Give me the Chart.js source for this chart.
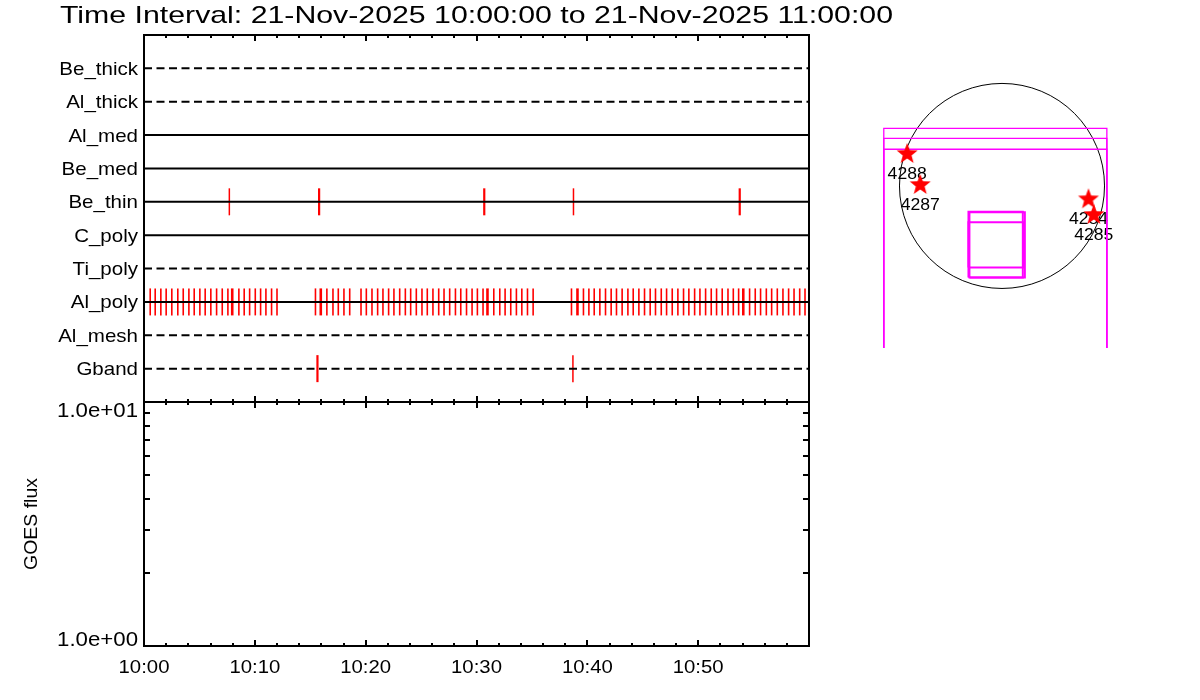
<!DOCTYPE html>
<html>
<head>
<meta charset="utf-8">
<script src="https://cdn.jsdelivr.net/npm/chart.js@4.4.1/dist/chart.umd.min.js"></script>
<style>
  html, body { margin: 0; background: #fff; }
  #wrap { position: relative; width: 1200px; height: 700px; }
  canvas { position: absolute; left: 0; top: 0; }
</style>
</head>
<body>
<div id="wrap">
  <canvas id="filters" width="1200" height="700"></canvas>
  <canvas id="goes" width="1200" height="700"></canvas>
  <canvas id="sun" width="1200" height="700"></canvas>
</div>
<script>
// ---- data ----
const title = "Time Interval: 21-Nov-2025 10:00:00 to 21-Nov-2025 11:00:00";

const filters = ["Be_thick", "Al_thick", "Al_med", "Be_med", "Be_thin",
                 "C_poly", "Ti_poly", "Al_poly", "Al_mesh", "Gband"];
const filterDashed = [true, true, false, false, false, false, true, false, true, true];

// exposure times, minutes after 10:00
const beThinSingle = [7.7, 38.75];
const beThinDouble = [15.8, 30.7, 53.75];
const gbandSingle = [38.7];
const gbandDouble = [15.65];
const alPolySingle = [
  0.0, 0.56, 1.01, 1.52, 2.0, 2.51, 3.05, 3.54, 4.05, 4.53, 5.04, 5.52, 6.03, 6.55,
  7.06, 7.57, 8.56, 9.04, 9.53, 10.04, 10.52, 11.0, 11.51, 12.0,
  15.47, 16.5, 17.05, 17.53, 18.04, 18.56,
  19.58, 20.06, 20.57, 21.08, 21.56, 22.07, 22.55, 23.07, 23.58, 24.06, 24.57, 25.08,
  25.56, 26.07, 26.59, 27.07, 27.58, 28.1, 28.58, 29.1, 29.6, 30.08, 30.59, 31.56,
  32.1, 32.58, 33.09, 33.6, 34.09, 34.6, 35.11,
  38.57, 39.65, 40.14, 40.62, 41.13, 41.64, 42.15, 42.63, 43.14, 43.66, 44.14, 44.65,
  45.16, 45.67, 46.15, 46.67, 47.15, 47.66, 48.17, 48.68, 49.16, 49.68, 50.16, 50.67,
  51.18, 51.66, 52.17, 52.69, 53.17, 53.65, 54.64, 55.15, 55.63, 56.15, 56.63, 57.14,
  57.65, 58.16, 58.65, 59.16, 59.64
];
const alPolyDouble = [7.96, 15.95, 30.99, 39.11, 54.07];

const timeTickMinutes = [0, 10, 20, 30, 40, 50];
const timeTickLabels = ["10:00", "10:10", "10:20", "10:30", "10:40", "10:50"];

const goesFlux = [];
const goesTicks = [10, 1];
const goesTickLabels = ["1.0e+01", "1.0e+00"];

// active regions, arcsec from disk centre
const arNumbers = ["4288", "4287", "4284", "4285"];
const arX = [-888, -766, 810, 860];
const arY = [300, 9, -125, -272];
const sunRadius = 960;

// XRT fields of view, arcsec
const fovXMin = [-1107, -1107, -1107, -314, -305, -314];
const fovXMax = [982, 982, 982, 195, 214, 201];
const fovYMin = [-2000, -2000, -2000, -859, -859, -765];
const fovYMax = [540, 447, 344, -241, -247, -340];

// ---- helpers ----
const FONT = '"Liberation Sans", Arial, sans-serif';

function txt(ctx, s, x, y, size, align, opts = {}) {
  ctx.save();
  ctx.font = size + "px " + FONT;
  ctx.fillStyle = "#000";
  ctx.textBaseline = "alphabetic";
  ctx.translate(x, y);
  if (opts.rot) ctx.rotate(opts.rot);
  let k = opts.stretch || 1.12;
  if (opts.width) k = opts.width / ctx.measureText(s).width;
  ctx.scale(k, 1);
  ctx.textAlign = align;
  ctx.fillText(s, 0, 0);
  ctx.restore();
}

function timeTicks(ctx, xs, y, dir) {
  for (let m = xs.min; m <= xs.max; m += 2) {
    const len = m % 10 === 0 ? 6 : 3;
    const x = Math.round(xs.getPixelForValue(m));
    ctx.moveTo(x, y);
    ctx.lineTo(x, y + dir * len);
  }
}

const common = {
  responsive: false,
  animation: false,
  events: [],
  plugins: { legend: { display: false }, tooltip: { enabled: false } },
};

// ---- filter timeline ----
const filterLines = filters.map((f, i) => ({
  label: f,
  showLine: true,
  pointRadius: 0,
  borderColor: "#000",
  borderWidth: 2,
  borderDash: filterDashed[i] ? [8, 4.5] : [],
  data: [{ x: 0, y: i + 1 }, { x: 60, y: i + 1 }],
  clip: false,
}));

function exposures(times, name, width) {
  const row = filters.indexOf(name) + 1;
  return {
    label: name + " exp",
    data: times.map(t => ({ x: t, y: row })),
    showLine: false,
    pointStyle: "line",
    pointRotation: 90,
    pointRadius: 13.5,
    pointBorderColor: "#ff0000",
    pointBorderWidth: width,
    clip: false,
  };
}

new Chart(document.getElementById("filters"), {
  type: "scatter",
  data: {
    datasets: [
      ...filterLines,
      exposures(beThinSingle, "Be_thin", 1.5),
      exposures(beThinDouble, "Be_thin", 2.2),
      exposures(gbandSingle, "Gband", 1.5),
      exposures(gbandDouble, "Gband", 2.2),
      exposures(alPolySingle, "Al_poly", 1.6),
      exposures(alPolyDouble, "Al_poly", 2.6),
    ],
  },
  options: {
    ...common,
    layout: { padding: { left: 144, right: 391, top: 35, bottom: 298 } },
    scales: {
      x: { type: "linear", min: 0, max: 60, display: false },
      y: { type: "linear", min: 0, max: 11, reverse: true, display: false },
    },
  },
  plugins: [{
    id: "filterAxes",
    afterDraw(chart) {
      const { ctx, chartArea: a } = chart;
      const xs = chart.scales.x, ys = chart.scales.y;
      ctx.save();
      ctx.strokeStyle = "#000";
      ctx.lineWidth = 2;
      ctx.beginPath();
      ctx.moveTo(a.left, a.bottom); ctx.lineTo(a.left, a.top);
      ctx.lineTo(a.right, a.top); ctx.lineTo(a.right, a.bottom);
      timeTicks(ctx, xs, a.top, 1);
      timeTicks(ctx, xs, a.bottom, -1);
      ctx.stroke();
      ctx.restore();
      filters.forEach((f, i) => {
        txt(ctx, f, 138, ys.getPixelForValue(i + 1) + 6.5, 19, "right", { stretch: 1.08 });
      });
      txt(ctx, title, (a.left + a.right) / 2, 23, 24, "center", { width: 833 });
    },
  }],
});

// ---- GOES panel ----
new Chart(document.getElementById("goes"), {
  type: "scatter",
  data: {
    datasets: [{ label: "GOES", data: goesFlux, showLine: true, borderColor: "#000", pointRadius: 0 }],
  },
  options: {
    ...common,
    layout: { padding: { left: 144, right: 391, top: 402, bottom: 54 } },
    scales: {
      x: { type: "linear", min: 0, max: 60, display: false },
      y: { type: "logarithmic", min: 1, max: 10, display: false },
    },
  },
  plugins: [{
    id: "goesAxes",
    afterDraw(chart) {
      const { ctx, chartArea: a } = chart;
      const xs = chart.scales.x, ys = chart.scales.y;
      ctx.save();
      ctx.strokeStyle = "#000";
      ctx.lineWidth = 2;
      ctx.beginPath();
      ctx.rect(a.left, a.top, a.right - a.left, a.bottom - a.top);
      timeTicks(ctx, xs, a.top, 1);
      timeTicks(ctx, xs, a.bottom, -1);
      for (let v = 2; v < 10; v++) {
        const y = Math.round(ys.getPixelForValue(v));
        ctx.moveTo(a.left, y); ctx.lineTo(a.left + 6, y);
        ctx.moveTo(a.right, y); ctx.lineTo(a.right - 6, y);
      }
      ctx.stroke();
      ctx.restore();
      timeTickMinutes.forEach((m, i) => {
        txt(ctx, timeTickLabels[i], xs.getPixelForValue(m), 673, 18, "center", { stretch: 1.13 });
      });
      goesTicks.forEach((v, i) => {
        const y = ys.getPixelForValue(v);
        const base = v === ys.max ? y + 15 : y;
        txt(ctx, goesTickLabels[i], 138, base, 19.5, "right", { stretch: 1.14 });
      });
      txt(ctx, "GOES flux", 36.5, (a.top + a.bottom) / 2, 18, "center", { rot: -Math.PI / 2, stretch: 1.08 });
    },
  }],
});

// ---- solar disk with FOVs ----
function makeStar(r) {
  const c = document.createElement("canvas");
  c.width = c.height = 2 * r + 2;
  const g = c.getContext("2d");
  g.fillStyle = "#ff0000";
  g.beginPath();
  for (let i = 0; i < 10; i++) {
    const ang = -Math.PI / 2 + i * Math.PI / 5;
    const rr = i % 2 ? r * 0.42 : r;
    g.lineTo(c.width / 2 + rr * Math.cos(ang), c.height / 2 + rr * Math.sin(ang));
  }
  g.closePath();
  g.fill();
  return c;
}

const fovSets = fovXMin.map((x0, i) => ({
  label: "fov" + i,
  showLine: true,
  pointRadius: 0,
  borderColor: "#ff00ff",
  borderWidth: i < 3 ? 1.3 : 2,
  tension: 0,
  clip: 0,
  data: [
    { x: x0, y: fovYMin[i] }, { x: x0, y: fovYMax[i] },
    { x: fovXMax[i], y: fovYMax[i] }, { x: fovXMax[i], y: fovYMin[i] },
    { x: x0, y: fovYMin[i] },
  ],
}));

new Chart(document.getElementById("sun"), {
  type: "scatter",
  data: {
    datasets: [
      {
        label: "AR",
        data: arX.map((x, i) => ({ x, y: arY[i] })),
        pointStyle: makeStar(11),
        pointRadius: 10,
        clip: false,
      },
      ...fovSets,
    ],
  },
  options: {
    ...common,
    layout: { padding: { left: 852.5, right: 48.5, top: 58, bottom: 352 } },
    scales: {
      x: { type: "linear", min: -1400, max: 1400, display: false },
      y: { type: "linear", min: -1520, max: 1200, display: false },
    },
  },
  plugins: [{
    id: "disk",
    beforeDatasetsDraw(chart) {
      const ctx = chart.ctx;
      const xs = chart.scales.x, ys = chart.scales.y;
      const cx = xs.getPixelForValue(0), cy = ys.getPixelForValue(0);
      const r = xs.getPixelForValue(sunRadius) - cx;
      ctx.save();
      ctx.strokeStyle = "#000";
      ctx.lineWidth = 1;
      ctx.beginPath();
      ctx.arc(cx, cy, r, 0, Math.PI * 2);
      ctx.stroke();
      ctx.restore();
      arNumbers.forEach((n, i) => {
        txt(ctx, n, xs.getPixelForValue(arX[i]), ys.getPixelForValue(arY[i]) + 25, 16, "center", { stretch: 1.1 });
      });
    },
  }],
});
</script>
</body>
</html>
